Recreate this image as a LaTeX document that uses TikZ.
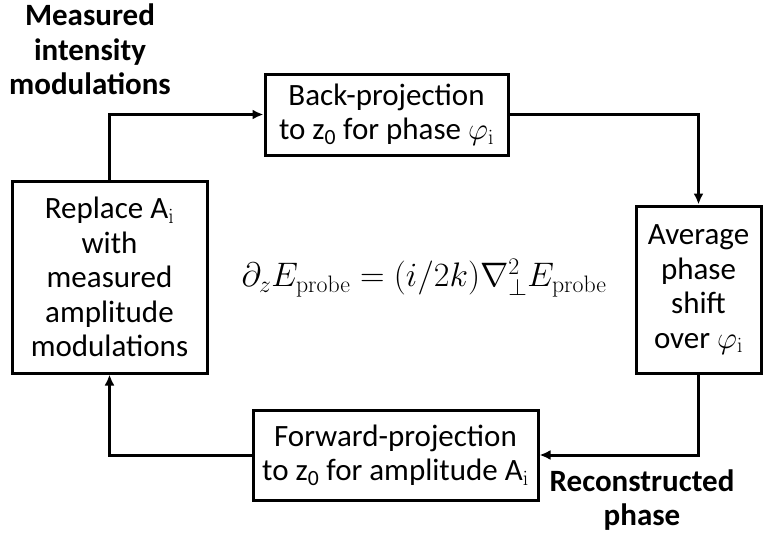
\RequirePackage{fix-cm}
\documentclass[tikz,border=0pt]{standalone}
\usepackage[no-math]{fontspec}
\setmainfont{Carlito}
\usetikzlibrary{arrows.meta}
\begin{document}
\begin{tikzpicture}[x=1pt,y=-1pt,>={Latex[length=11pt,width=10pt]},
% common options for the boxes:
stage/.style = {draw, line width=3pt, align=center, inner sep=0,
            font=\fontsize{31}{34.5}\selectfont},
% common options for the bold labels:
note/.style = {align=center, inner sep=0, font=\fontsize{31}{34.5}\selectfont\bfseries},
% common options for the arrows:
flow/.style = {->, line width=3pt}]
\useasboundingbox (0,0) rectangle (764,533);
\node[stage,minimum width=243pt,minimum height=81pt] (back) at (386.5,114.5)
    {Back-projection\\to z\textsubscript{0} for phase $\varphi_\mathrm{i}$};
\node[stage,minimum width=125pt,minimum height=167pt] (avg) at (698.5,289.5)
    {Average\\phase\\shift\\over $\varphi_\mathrm{i}$};
\node[stage,minimum width=285pt,minimum height=90pt] (fwd) at (395.5,455)
    {Forward-projection\\to z\textsubscript{0} for amplitude A$_\mathrm{i}$};
\node[stage,minimum width=195pt,minimum height=192pt] (repl) at (109.5,277)
    {Replace A$_\mathrm{i}$\\with\\measured\\amplitude\\modulations};
\node[note,anchor=north] (meas) at (90,4) {Measured\\intensity\\modulations};
\node[note,anchor=south] (recon) at (642,531) {Reconstructed\\phase};
\node[font=\fontsize{34}{40}\selectfont] (eq) at (424,278)
    {$\partial_z E_{\mathrm{probe}} = (i/2k)\nabla_\perp^2 E_{\mathrm{probe}}$};
\draw[flow] (repl.north) |- (back.west);
\draw[flow] (back.east) -| (avg.north);
\draw[flow] (avg.south) |- (fwd.east);
\draw[flow] (fwd.west) -| (repl.south);
\end{tikzpicture}
\end{document}
